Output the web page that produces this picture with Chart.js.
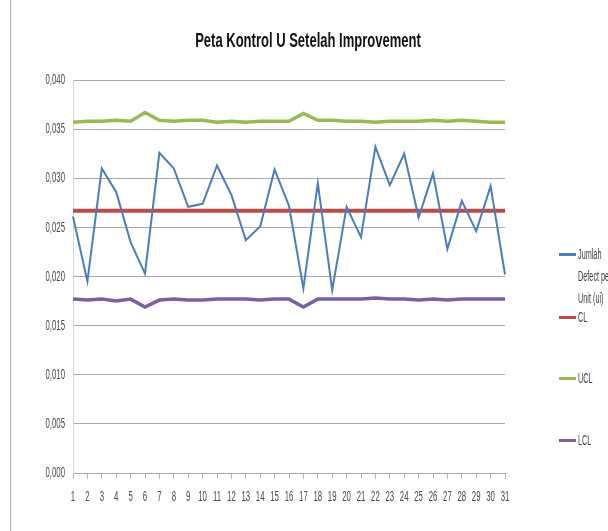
<!DOCTYPE html>
<html>
<head>
<meta charset="utf-8">
<script src="https://cdn.jsdelivr.net/npm/chart.js@4"></script>
<style>
  body { margin: 0; background: #fff; overflow: hidden; }
  #wrap { position: relative; width: 608px; height: 531px; overflow: hidden;
          font-family: 'Liberation Sans', Arial, sans-serif; }
  #frame { position: absolute; left: 10px; top: 0; width: 1px; height: 531px; background: #b4b4b4; }
  #title { position: absolute; left: 0; width: 616px; top: 28px; text-align: center;
           font-weight: bold; font-size: 21px; line-height: 24px; color: #111;
           transform: scaleX(0.62); transform-origin: 308px 0; white-space: nowrap; }
  #legend { position: absolute; left: 0; top: 0; width: 608px; height: 531px; pointer-events: none; }
  .item { position: absolute; left: 559px; font-size: 14px; color: #404040; line-height: 22px; white-space: nowrap; }
  .item .swatch { position: absolute; left: 0; top: 10px; width: 17px; height: 3px; }
  .item .txt { position: absolute; left: 19px; top: 0; transform: scaleX(0.52); transform-origin: 0 0; }
</style>
</head>
<body>
<div id="wrap">
  <div id="frame"></div>
  <canvas id="chart" width="608" height="531"></canvas>
  <div id="title">Peta Kontrol U Setelah Improvement</div>
  <div id="legend"></div>
</div>
<script>
const categories = Array.from({ length: 31 }, (_, i) => String(i + 1));

const defectPerUnit = [0.0261, 0.0195, 0.0310, 0.0286, 0.0235, 0.0203, 0.0326, 0.0310, 0.0271, 0.0274,
                       0.0313, 0.0283, 0.0237, 0.0251, 0.0309, 0.0272, 0.0188, 0.0295, 0.0186, 0.0271,
                       0.0240, 0.0332, 0.0293, 0.0325, 0.0260, 0.0305, 0.0228, 0.0277, 0.0246, 0.0292,
                       0.0202];
const clValues = Array(31).fill(0.0267);
const uclValues = [0.0357, 0.0358, 0.0358, 0.0359, 0.0358, 0.0367, 0.0359, 0.0358, 0.0359, 0.0359,
                   0.0357, 0.0358, 0.0357, 0.0358, 0.0358, 0.0358, 0.0366, 0.0359, 0.0359, 0.0358,
                   0.0358, 0.0357, 0.0358, 0.0358, 0.0358, 0.0359, 0.0358, 0.0359, 0.0358, 0.0357,
                   0.0357];
const lclValues = [0.0177, 0.0176, 0.0177, 0.0175, 0.0177, 0.0169, 0.0176, 0.0177, 0.0176, 0.0176,
                   0.0177, 0.0177, 0.0177, 0.0176, 0.0177, 0.0177, 0.0169, 0.0177, 0.0177, 0.0177,
                   0.0177, 0.0178, 0.0177, 0.0177, 0.0176, 0.0177, 0.0176, 0.0177, 0.0177, 0.0177,
                   0.0177];

const seriesLabels = ['Jumlah Defect per Unit (ui)', 'CL', 'UCL', 'LCL'];
const legendLines = [['Jumlah', 'Defect per', 'Unit (ui)'], ['CL'], ['UCL'], ['LCL']];
const legendTops = [243, 306, 367, 429];

const yMin = 0, yMax = 0.04, yStep = 0.005;

const fmtY = v => v.toFixed(3).replace('.', ',');

// the source picture is squeezed sideways, so the axis labels are drawn narrow
function drawNarrow(ctx, text, x, y, align) {
    ctx.save();
    ctx.translate(x, y);
    ctx.scale(0.52, 1);
    ctx.textAlign = align;
    ctx.fillText(text, 0, 0);
    ctx.restore();
}

const narrowLabels = {
    id: 'narrowLabels',
    afterDraw(chart) {
        const ctx = chart.ctx;
        const xs = chart.scales.x, ys = chart.scales.y;
        ctx.save();
        ctx.fillStyle = '#484848';
        ctx.font = '15px "Liberation Sans", Arial, sans-serif';
        ctx.textBaseline = 'middle';
        ys.ticks.forEach((t, i) => {
            drawNarrow(ctx, fmtY(t.value), ys.right - 8, ys.getPixelForTick(i), 'right');
        });
        xs.ticks.forEach((t, i) => {
            drawNarrow(ctx, xs.getLabelForValue(t.value), xs.getPixelForTick(i), xs.top + 24, 'center');
        });
        ctx.restore();
    }
};

const datasets = [
    { label: seriesLabels[0], data: defectPerUnit, borderColor: '#4a7ebb', borderWidth: 2 },
    { label: seriesLabels[1], data: clValues, borderColor: '#be4b48', borderWidth: 4 },
    { label: seriesLabels[2], data: uclValues, borderColor: '#98b954', borderWidth: 3.5 },
    { label: seriesLabels[3], data: lclValues, borderColor: '#7d5fa0', borderWidth: 3.5 }
].map(d => Object.assign(d, { pointRadius: 0, tension: 0, fill: false }));

new Chart(document.getElementById('chart'), {
    type: 'line',
    data: { labels: categories, datasets },
    plugins: [narrowLabels],
    options: {
        responsive: false,
        animation: false,
        layout: { padding: { left: 0, right: 103, top: 80, bottom: 0 } },
        plugins: {
            legend: { display: false },
            title: { display: false },
            tooltip: { enabled: false }
        },
        scales: {
            x: {
                offset: false,
                grid: { drawOnChartArea: false, drawTicks: true, tickLength: 6, color: '#b8b8b8' },
                border: { color: '#a8a8a8' },
                ticks: { display: false, autoSkip: false },
                afterFit: s => { s.height = 58; }
            },
            y: {
                min: yMin,
                max: yMax,
                grid: { color: '#a8a8a8', drawTicks: false },
                border: { color: '#d8d8d8' },
                ticks: { display: false, stepSize: yStep },
                afterFit: s => { s.width = 73; }
            }
        }
    }
});

// legend
const legend = document.getElementById('legend');
datasets.forEach((d, i) => {
    const item = document.createElement('div');
    item.className = 'item';
    item.style.top = legendTops[i] + 'px';
    item.innerHTML = `<div class="swatch" style="background:${d.borderColor}"></div>
        <div class="txt">${legendLines[i].join('<br>')}</div>`;
    legend.appendChild(item);
});
</script>
</body>
</html>
